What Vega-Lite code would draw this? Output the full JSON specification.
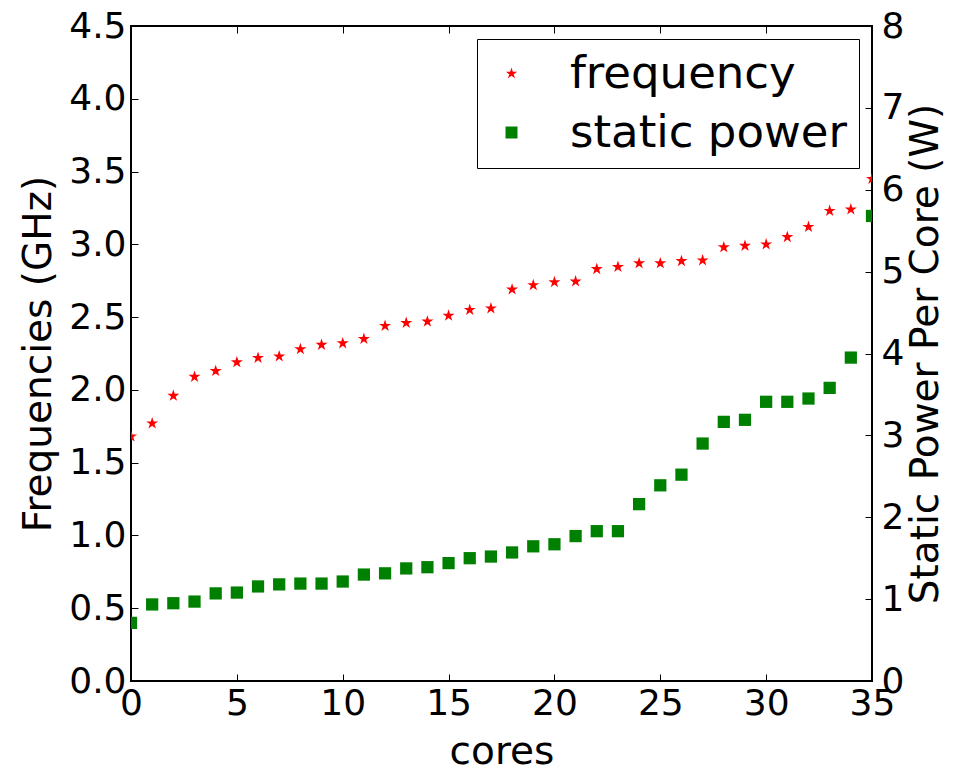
{
  "$schema": "https://vega.github.io/schema/vega-lite/v6.json",
  "width": 741,
  "height": 655,
  "autosize": {"type": "none"},
  "padding": {"left": 131, "top": 26, "right": 87, "bottom": 86},
  "background": "white",
  "config": {
    "font": "DejaVu Sans",
    "view": {"stroke": "black", "strokeWidth": 2},
    "axis": {
      "grid": false,
      "domain": false,
      "tickColor": "black",
      "tickWidth": 1,
      "tickSize": -7,
      "labelColor": "black",
      "labelFontSize": 36,
      "labelOverlap": false,
      "labelFlush": false,
      "titleColor": "black",
      "titleFontSize": 39,
      "titleFontWeight": "normal"
    },
    "legend": {
      "orient": "top-right",
      "offset": 13,
      "labelFontSize": 45,
      "labelColor": "black",
      "labelLimit": 0,
      "symbolSize": 144,
      "symbolStrokeWidth": 0,
      "strokeColor": "black",
      "fillColor": "white",
      "padding": 12,
      "rowPadding": 13,
      "labelOffset": 36,
      "symbolOffset": 0,
      "cornerRadius": 0
    }
  },
  "data": {
    "values": [
      {"core": 0, "series": "frequency", "value": 1.68},
      {"core": 1, "series": "frequency", "value": 1.77},
      {"core": 2, "series": "frequency", "value": 1.96},
      {"core": 3, "series": "frequency", "value": 2.09},
      {"core": 4, "series": "frequency", "value": 2.13},
      {"core": 5, "series": "frequency", "value": 2.19},
      {"core": 6, "series": "frequency", "value": 2.22},
      {"core": 7, "series": "frequency", "value": 2.23},
      {"core": 8, "series": "frequency", "value": 2.28},
      {"core": 9, "series": "frequency", "value": 2.31},
      {"core": 10, "series": "frequency", "value": 2.32},
      {"core": 11, "series": "frequency", "value": 2.35},
      {"core": 12, "series": "frequency", "value": 2.44},
      {"core": 13, "series": "frequency", "value": 2.46},
      {"core": 14, "series": "frequency", "value": 2.47},
      {"core": 15, "series": "frequency", "value": 2.51},
      {"core": 16, "series": "frequency", "value": 2.55},
      {"core": 17, "series": "frequency", "value": 2.56},
      {"core": 18, "series": "frequency", "value": 2.69},
      {"core": 19, "series": "frequency", "value": 2.72},
      {"core": 20, "series": "frequency", "value": 2.74},
      {"core": 21, "series": "frequency", "value": 2.745},
      {"core": 22, "series": "frequency", "value": 2.83},
      {"core": 23, "series": "frequency", "value": 2.845},
      {"core": 24, "series": "frequency", "value": 2.87},
      {"core": 25, "series": "frequency", "value": 2.87},
      {"core": 26, "series": "frequency", "value": 2.885},
      {"core": 27, "series": "frequency", "value": 2.89},
      {"core": 28, "series": "frequency", "value": 2.98},
      {"core": 29, "series": "frequency", "value": 2.99},
      {"core": 30, "series": "frequency", "value": 3.0},
      {"core": 31, "series": "frequency", "value": 3.05},
      {"core": 32, "series": "frequency", "value": 3.12},
      {"core": 33, "series": "frequency", "value": 3.23},
      {"core": 34, "series": "frequency", "value": 3.24},
      {"core": 35, "series": "frequency", "value": 3.45},
      {"core": 0, "series": "static power", "value": 0.71},
      {"core": 1, "series": "static power", "value": 0.935},
      {"core": 2, "series": "static power", "value": 0.95},
      {"core": 3, "series": "static power", "value": 0.97},
      {"core": 4, "series": "static power", "value": 1.07},
      {"core": 5, "series": "static power", "value": 1.08},
      {"core": 6, "series": "static power", "value": 1.155},
      {"core": 7, "series": "static power", "value": 1.18},
      {"core": 8, "series": "static power", "value": 1.19},
      {"core": 9, "series": "static power", "value": 1.19},
      {"core": 10, "series": "static power", "value": 1.215},
      {"core": 11, "series": "static power", "value": 1.3},
      {"core": 12, "series": "static power", "value": 1.315},
      {"core": 13, "series": "static power", "value": 1.375},
      {"core": 14, "series": "static power", "value": 1.39},
      {"core": 15, "series": "static power", "value": 1.44},
      {"core": 16, "series": "static power", "value": 1.5},
      {"core": 17, "series": "static power", "value": 1.52},
      {"core": 18, "series": "static power", "value": 1.57},
      {"core": 19, "series": "static power", "value": 1.645},
      {"core": 20, "series": "static power", "value": 1.67},
      {"core": 21, "series": "static power", "value": 1.77},
      {"core": 22, "series": "static power", "value": 1.83},
      {"core": 23, "series": "static power", "value": 1.83},
      {"core": 24, "series": "static power", "value": 2.16},
      {"core": 25, "series": "static power", "value": 2.39},
      {"core": 26, "series": "static power", "value": 2.52},
      {"core": 27, "series": "static power", "value": 2.9},
      {"core": 28, "series": "static power", "value": 3.165},
      {"core": 29, "series": "static power", "value": 3.19},
      {"core": 30, "series": "static power", "value": 3.41},
      {"core": 31, "series": "static power", "value": 3.41},
      {"core": 32, "series": "static power", "value": 3.45},
      {"core": 33, "series": "static power", "value": 3.58},
      {"core": 34, "series": "static power", "value": 3.95},
      {"core": 35, "series": "static power", "value": 5.68}
    ]
  },
  "layer": [
    {
      "transform": [{"filter": "datum.series === 'frequency'"}],
      "mark": {"type": "point", "filled": true, "opacity": 1, "size": 160, "clip": true},
      "encoding": {
        "x": {
          "field": "core", "type": "quantitative",
          "scale": {"domain": [0, 35], "nice": false, "zero": false},
          "axis": {"orient": "bottom", "values": [0, 5, 10, 15, 20, 25, 30, 35], "labelPadding": 12, "title": "cores", "titlePadding": 11}
        },
        "y": {
          "field": "value", "type": "quantitative",
          "scale": {"domain": [0, 4.5], "nice": false},
          "axis": {"orient": "left", "values": [0, 0.5, 1, 1.5, 2, 2.5, 3, 3.5, 4, 4.5], "format": ".1f", "labelPadding": 12, "title": "Frequencies (GHz)", "titlePadding": 10}
        },
        "color": {
          "field": "series", "type": "nominal",
          "scale": {"domain": ["frequency", "static power"], "range": ["#ff0000", "#008000"]},
          "legend": {"title": null}
        },
        "shape": {
          "field": "series", "type": "nominal",
          "scale": {"domain": ["frequency", "static power"], "range": ["M0,-1L0.2245,-0.309L0.951,-0.309L0.363,0.118L0.588,0.809L0,0.382L-0.588,0.809L-0.363,0.118L-0.951,-0.309L-0.2245,-0.309Z", "square"]},
          "legend": {"title": null}
        }
      }
    },
    {
      "transform": [{"filter": "datum.series === 'static power'"}],
      "mark": {"type": "point", "filled": true, "opacity": 1, "size": 150, "clip": true},
      "encoding": {
        "x": {
          "field": "core", "type": "quantitative",
          "scale": {"domain": [0, 35], "nice": false, "zero": false},
          "axis": {"orient": "top", "values": [0, 5, 10, 15, 20, 25, 30, 35], "labels": false, "title": null}
        },
        "y": {
          "field": "value", "type": "quantitative",
          "scale": {"domain": [0, 8], "nice": false},
          "axis": {"orient": "right", "values": [0, 1, 2, 3, 4, 5, 6, 7, 8], "format": "d", "labelPadding": 16, "title": "Static Power Per Core (W)", "titleAngle": 270, "titleBaseline": "top", "titlePadding": 3}
        },
        "color": {
          "field": "series", "type": "nominal",
          "scale": {"domain": ["frequency", "static power"], "range": ["#ff0000", "#008000"]},
          "legend": {"title": null}
        },
        "shape": {
          "field": "series", "type": "nominal",
          "scale": {"domain": ["frequency", "static power"], "range": ["M0,-1L0.2245,-0.309L0.951,-0.309L0.363,0.118L0.588,0.809L0,0.382L-0.588,0.809L-0.363,0.118L-0.951,-0.309L-0.2245,-0.309Z", "square"]},
          "legend": {"title": null}
        }
      }
    }
  ],
  "resolve": {
    "scale": {"y": "independent"},
    "axis": {"x": "independent", "y": "independent"}
  }
}
